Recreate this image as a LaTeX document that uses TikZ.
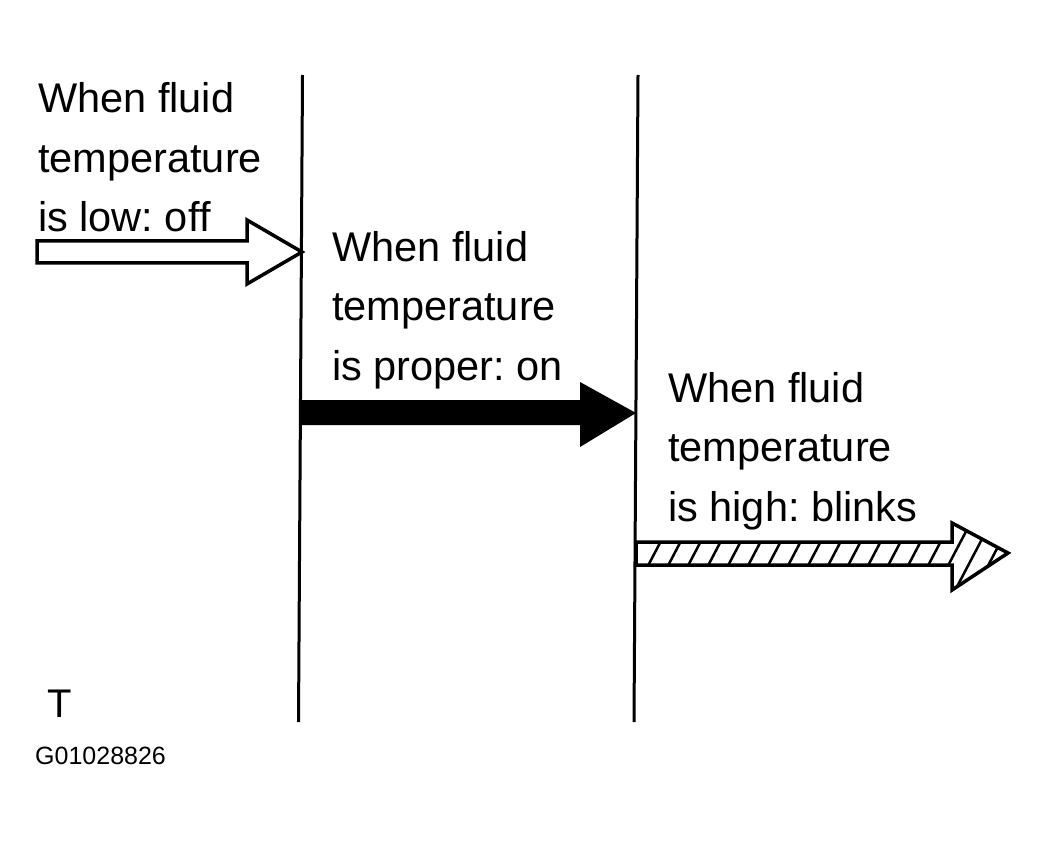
\documentclass[tikz,border=0pt]{standalone}
\usepackage{fontspec}
\setmainfont[Ligatures=NoCommon]{Liberation Sans}
\begin{document}
\frenchspacing
\begin{tikzpicture}[x=1pt,y=-1pt,
  lbl/.style={inner sep=0pt, anchor=base west, align=left, font=\fontsize{41.5}{59.5}\selectfont},
  divider/.style={line width=3pt},
  arrowline/.style={line width=3.5pt, line join=miter}]
\useasboundingbox (0,0) rectangle (1046,842);
% divider lines
\coordinate (d1t) at (302.5,75);
\coordinate (d1b) at (298.5,722);
\coordinate (d2t) at (638,75);
\coordinate (d2b) at (634,722);
\draw[divider] (d1t) -- (d1b);
\draw[divider] (d2t) -- (d2b);
% texts (base anchor = baseline of last line)
\node[lbl] (low) at (38,232) {When fluid\\temperature\\is low: of\kern0ptf};
\node[lbl] (proper) at (332,380) {When fluid\\temperature\\is proper: on};
\node[lbl] (high) at (668,521) {When fluid\\temperature\\is high: blinks};
\node[inner sep=0pt, anchor=base west, font=\fontsize{40}{48}\selectfont] (T) at (47,717) {T};
\node[inner sep=0pt, anchor=base west, font=\fontsize{25}{30}\selectfont] (code) at (35,764) {G01028826};
% arrow 1: outlined white
\draw[arrowline, fill=white] (37,241) -- (247,241) -- (247,220) -- (302,252) -- (247,284) -- (247,263) -- (37,263) -- cycle;
% arrow 2: solid black
\fill[black] (300,400) -- (580,400) -- (580,382) -- (636,413) -- (580,447) -- (580,425) -- (300,425) -- cycle;
% arrow 3: hatched
\begin{scope}
  \clip (636,542) -- (952,542) -- (952,523) -- (1008,553) -- (952,590) -- (952,565) -- (636,565) -- cycle;
  \foreach \x in {630,650,...,1020} {
    \draw[line width=2.5pt] (\x,600) -- ({\x+42},520);
  }
\end{scope}
\draw[arrowline] (636,542) -- (952,542) -- (952,523) -- (1008,553) -- (952,590) -- (952,565) -- (636,565) -- cycle;
\end{tikzpicture}
\end{document}
